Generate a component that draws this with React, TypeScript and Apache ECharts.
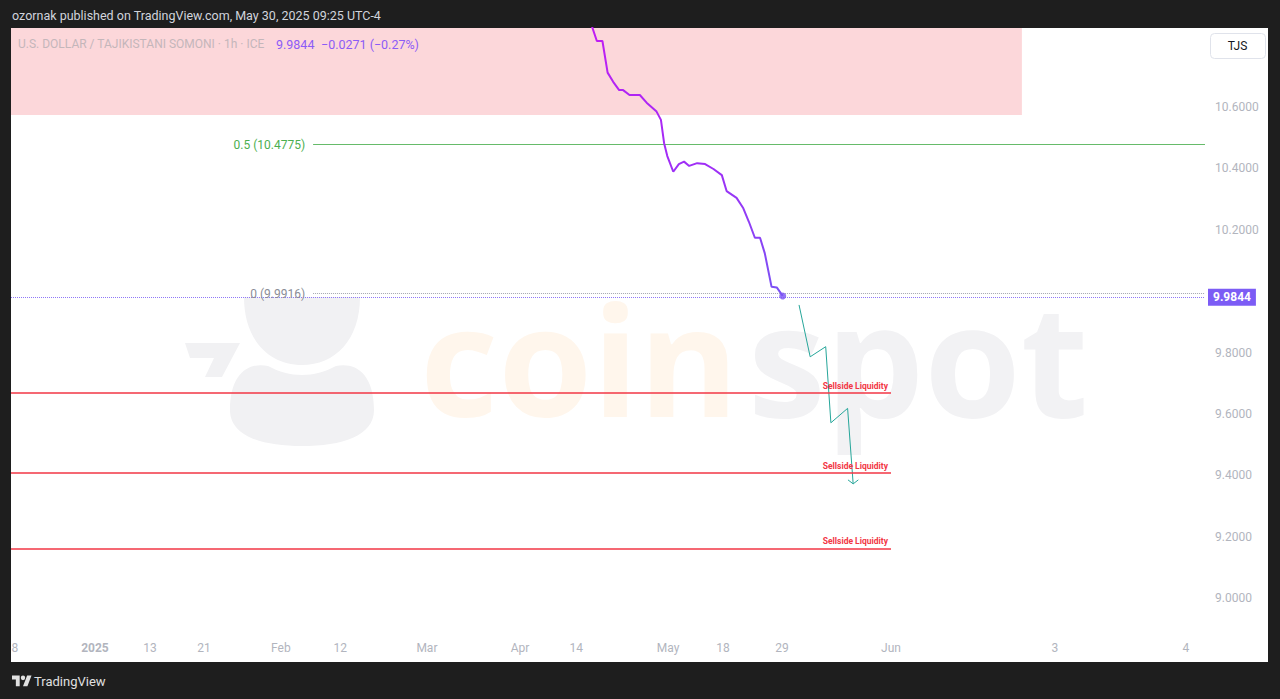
import React, { useEffect, useRef } from "react";
import * as echarts from "echarts";

// ---- data ----
const priceBars = [145.0, 147.2, 148.6, 149.9, 151.3, 152.8, 153.8, 155.4, 158.0, 159.7, 162.2, 163.3, 164.1, 164.9, 166.4, 167.8, 169.1, 170.4, 172.4, 174.4, 176.5, 178.6, 179.8, 182.3, 184.0, 185.4, 186.9, 188.2, 189.4, 191.1, 192.4, 193.9];
const priceVals = [10.90, 10.815, 10.815, 10.712, 10.682, 10.655, 10.655, 10.639, 10.639, 10.614, 10.585, 10.558, 10.482, 10.440, 10.389, 10.414, 10.422, 10.408, 10.417, 10.414, 10.398, 10.378, 10.326, 10.304, 10.270, 10.226, 10.174, 10.174, 10.123, 10.014, 10.012, 9.9844];
const lastPrice = 9.9844;
const projBars = [198.0, 200.8, 204.7, 206.0, 210.2, 211.6];
const projVals = [9.955, 9.786, 9.819, 9.571, 9.618, 9.372];
const arrowBars = [210.3, 211.6, 212.9];
const arrowVals = [9.385, 9.372, 9.385];
const liquidityLevels = [9.668, 9.407, 9.160];
const liquidityEndBar = 221.1;
const fibLabels = ["0.5 (10.4775)", "0 (9.9916)"];
const fibVals = [10.4775, 9.9916];
const fibStartBar = 75.9;
const zoneBottom = 10.574;
const zoneEndBar = 254.0;
const yTicks = [9.0, 9.2, 9.4, 9.6, 9.8, 10.0, 10.2, 10.4, 10.6];
const yTickLabels = ["9.0000", "9.2000", "9.4000", "9.6000", "9.8000", "", "10.2000", "10.4000", "10.6000"];
const xTickBars = [1.0, 21.1, 34.9, 48.5, 67.8, 82.7, 104.5, 127.9, 142.0, 165.1, 178.9, 193.7, 221.1, 262.3, 295.2];
const xTickLabels = ["8", "2025", "13", "21", "Feb", "12", "Mar", "Apr", "14", "May", "18", "29", "Jun", "3", "4"];
const yMin = 8.8893;
const yMax = 10.8574;
const xMax = 300;

const FONT = "Roboto";

const MASCOT_D =
  "M244 297 L360 297 C360 340 335 365 302 365 C269 365 244 340 244 297 Z " +
  "M230 410 C230 372 250 362 268 366 C290 378 314 378 336 366 C354 362 374 372 374 410 C374 436 342 446 302 446 C262 446 230 436 230 410 Z " +
  "M185 343 L240 343 L222 377 L205 377 L214 358 L190 358 Z";
const TV_D = "M14 22H7V11H0V4h14v18zM28 22h-8l7.5-18h8L28 22zM24 8a4 4 0 1 1-8 0a4 4 0 1 1 8 0z";

echarts.graphic.registerShape("csmascot", echarts.graphic.extendPath(MASCOT_D, {}) as any);
echarts.graphic.registerShape("tvlogo", echarts.graphic.extendPath(TV_D, {}) as any);

export default function App() {
  const ref = useRef<HTMLDivElement>(null);
  useEffect(() => {
    if (!ref.current) return;
    const chart = echarts.init(ref.current, null, { renderer: "svg" });
    const priceData = priceBars.map((b, i) => [b, priceVals[i]]);
    const projData = projBars.map((b, i) => [b, projVals[i]]);
    const arrowData = arrowBars.map((b, i) => [b, arrowVals[i]]);

    const liquidityLines = liquidityLevels.map((v) => [
      {
        coord: [0, v],
        lineStyle: { color: "#f23645", width: 1.5, type: "solid" },
        label: {
          show: true,
          formatter: "Sellside Liquidity",
          position: "insideEndTop",
          color: "#f23645",
          fontSize: 8.5,
          fontWeight: "bold",
          fontFamily: FONT,
          distance: 3,
        },
      },
      { coord: [liquidityEndBar, v] },
    ]);
    const fibLines = fibVals.map((v, i) => [
      {
        coord: [fibStartBar, v],
        lineStyle: i === 0 ? { color: "#66bb6a", width: 1, type: "solid" } : { color: "#a3a6af", width: 1, type: "dotted" },
        label: {
          show: true,
          formatter: fibLabels[i],
          position: "start",
          distance: 8,
          color: i === 0 ? "#4caf50" : "#8a8d96",
          fontSize: 12,
          fontFamily: FONT,
        },
      },
      { coord: [xMax, v] },
    ]);

    chart.setOption({
      animation: false,
      backgroundColor: "#1e1e1e",
      grid: { left: 11, right: 75, top: 28, bottom: 67 },
      xAxis: {
        type: "value",
        min: 0,
        max: xMax,
        axisLine: { show: false },
        axisTick: { show: false },
        splitLine: { show: false },
        axisLabel: {
          customValues: xTickBars,
          margin: 10,
          color: "#b2b5be",
          fontSize: 12,
          fontFamily: FONT,
          formatter: (v: number) => {
            let best = 0;
            xTickBars.forEach((b, i) => {
              if (Math.abs(b - v) < Math.abs(xTickBars[best] - v)) best = i;
            });
            const t = xTickLabels[best];
            return t === "2025" ? "{b|2025}" : t;
          },
          rich: { b: { fontWeight: "bold", color: "#b2b5be", fontSize: 12, fontFamily: FONT } },
        },
      },
      yAxis: {
        type: "value",
        position: "right",
        min: yMin,
        max: yMax,
        axisLine: { show: false },
        axisTick: { show: false },
        splitLine: { show: false },
        axisLabel: {
          customValues: yTicks,
          margin: 10,
          align: "left",
          color: "#b2b5be",
          fontSize: 12,
          fontFamily: FONT,
          formatter: (v: number) => {
            let best = 0;
            yTicks.forEach((t, i) => {
              if (Math.abs(t - v) < Math.abs(yTicks[best] - v)) best = i;
            });
            return yTickLabels[best];
          },
        },
      },
      graphic: {
        elements: [
          { type: "rect", z: -100, shape: { x: 11, y: 28, width: 1257, height: 634 }, style: { fill: "#ffffff" }, silent: true },
          { type: "csmascot", z: -50, x: 0, y: 0, style: { fill: "#f1f1f3" }, silent: true },
          { type: "text", z: -50, x: 420, y: 434, style: { text: "coin", fill: "#fff6ec", fontSize: 152, fontWeight: "bold", fontFamily: "Open Sans", verticalAlign: "bottom" }, silent: true },
          { type: "text", z: -50, x: 748, y: 434, style: { text: "spot", fill: "#f2f2f4", fontSize: 156, fontWeight: "bold", fontFamily: "Open Sans", verticalAlign: "bottom" }, silent: true },
          { type: "text", z: 100, x: 12, y: 15, style: { text: "ozornak published on TradingView.com, May 30, 2025 09:25 UTC-4", fill: "#d1d4dc", fontSize: 12.5, fontFamily: FONT, verticalAlign: "middle" } },
          { type: "text", z: 100, x: 18, y: 44, style: { text: "U.S. DOLLAR / TAJIKISTANI SOMONI · 1h · ICE", fill: "#c4b6ba", fontSize: 12, fontFamily: FONT, verticalAlign: "middle" } },
          { type: "text", z: 100, x: 276, y: 44, style: { text: "9.9844", fill: "#8c5cf7", fontSize: 12.5, fontFamily: FONT, verticalAlign: "middle" } },
          { type: "text", z: 100, x: 321, y: 44, style: { text: "−0.0271 (−0.27%)", fill: "#8c5cf7", fontSize: 12.5, fontFamily: FONT, verticalAlign: "middle" } },
          { type: "rect", z: 100, shape: { x: 1210.5, y: 33.5, width: 55, height: 25, r: 4 }, style: { fill: "#ffffff", stroke: "#e0e3eb", lineWidth: 1 } },
          { type: "text", z: 101, x: 1237.5, y: 46, style: { text: "TJS", fill: "#131722", fontSize: 12, fontFamily: FONT, align: "center", verticalAlign: "middle" } },
          { type: "tvlogo", z: 100, x: 12, y: 673, scaleX: 0.55, scaleY: 0.6, style: { fill: "#e0e0e0" } },
          { type: "text", z: 100, x: 34, y: 681, style: { text: "TradingView", fill: "#e0e0e0", fontSize: 13, fontFamily: FONT, verticalAlign: "middle" } },
        ],
      },
      series: [
        {
          type: "line",
          data: priceData,
          showSymbol: false,
          z: 5,
          lineStyle: {
            width: 2,
            color: {
              type: "linear",
              x: 0,
              y: 0,
              x2: 0,
              y2: 1,
              colorStops: [
                { offset: 0, color: "#c41cf2" },
                { offset: 0.5, color: "#a22cf6" },
                { offset: 1, color: "#7a52f4" },
              ],
            },
          },
          markArea: {
            silent: true,
            itemStyle: { color: "rgba(242,54,69,0.2)" },
            data: [[{ coord: [0, zoneBottom] }, { coord: [zoneEndBar, yMax] }]],
          },
        },
        {
          type: "scatter",
          data: [[priceBars[priceBars.length - 1], lastPrice]],
          symbolSize: 7,
          z: 6,
          itemStyle: { color: "#7a52f4" },
          markLine: {
            silent: true,
            symbol: ["none", "none"],
            lineStyle: { color: "#8f78f7", width: 1, type: [1, 1] },
            data: [
              {
                yAxis: lastPrice,
                label: {
                  show: true,
                  position: "end",
                  distance: 3,
                  formatter: "9.9844",
                  color: "#ffffff",
                  fontWeight: "bold",
                  fontSize: 12,
                  fontFamily: FONT,
                  backgroundColor: "#7c5cf5",
                  padding: [3, 5, 2, 5],
                },
              },
            ],
          },
        },
        {
          type: "line",
          data: projData,
          showSymbol: false,
          z: 4,
          lineStyle: { color: "#26a69a", width: 1 },
          markLine: {
            silent: true,
            symbol: ["none", "none"],
            data: [...liquidityLines, ...fibLines] as any,
          },
        },
        {
          type: "line",
          data: arrowData,
          showSymbol: false,
          z: 4,
          lineStyle: { color: "#26a69a", width: 1 },
        },
      ],
    });
    return () => chart.dispose();
  }, []);
  return <div ref={ref} style={{ position: "fixed", left: 0, top: 0, width: 1280, height: 699 }} />;
}
